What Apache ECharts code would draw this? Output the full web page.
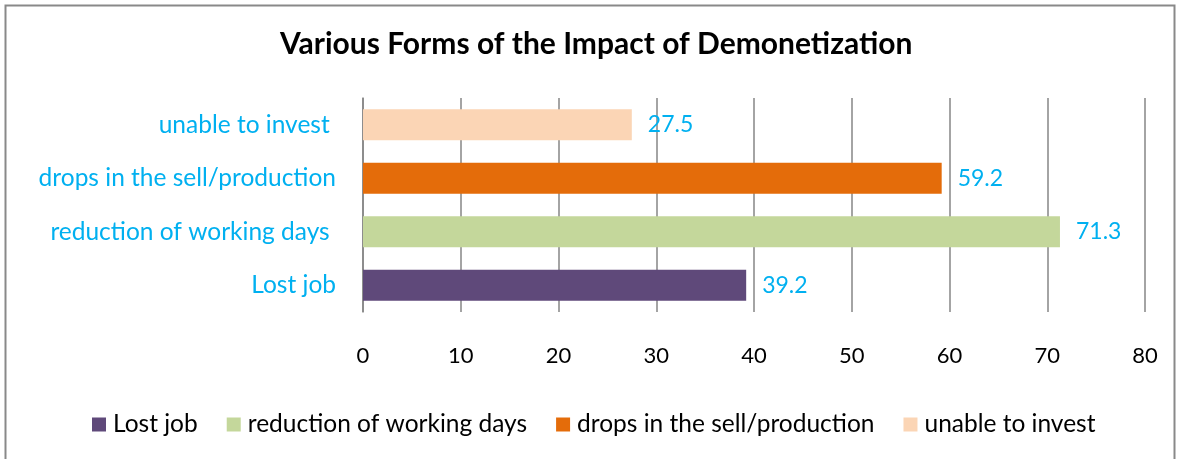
<!DOCTYPE html>
<html>
<head>
<meta charset="utf-8">
<script src="https://cdn.jsdelivr.net/npm/echarts@6/dist/echarts.min.js"></script>
<style>
html,body{margin:0;padding:0;background:#fff;}
#chart{width:1181px;height:459px;}
</style>
</head>
<body>
<div id="chart"></div>
<script>
const categories = ['Lost job', 'reduction of working days ', 'drops in the sell/production', 'unable to invest '];
const seriesNames = ['Lost job', 'reduction of working days', 'drops in the sell/production', 'unable to invest'];
const values = [39.2, 71.3, 59.2, 27.5];
const xTicks = [0, 10, 20, 30, 40, 50, 60, 70, 80];
const colors = ['#5F497A', '#C4D79B', '#E46C0A', '#FBD5B5'];

const FONT = 'Lato';
const chart = echarts.init(document.getElementById('chart'), null, {renderer: 'canvas'});

const series = seriesNames.map((name, i) => ({
  name: name,
  type: 'bar',
  stack: 'all',
  barWidth: 31,
  itemStyle: {color: colors[i]},
  label: {
    show: true,
    position: 'right',
    distance: 16,
    color: '#00B0F0',
    fontFamily: FONT,
    fontSize: 23,
    formatter: p => (p.value == null ? '' : p.value.toFixed(1))
  },
  data: categories.map((c, j) => (j === i ? values[i] : null))
}));

chart.setOption({
  animation: false,
  backgroundColor: '#fff',
  title: {
    text: 'Various Forms of the Impact of Demonetization',
    left: 280,
    top: 29,
    padding: 0,
    textStyle: {fontFamily: FONT, fontWeight: 'bold', fontSize: 30, color: '#000'}
  },
  graphic: [{
    type: 'rect',
    shape: {x: 5.5, y: 5.5, width: 1169, height: 470},
    style: {fill: 'none', stroke: '#898989', lineWidth: 2},
    silent: true
  }],
  legend: {
    left: 92,
    top: 412,
    padding: 0,
    icon: 'rect',
    itemWidth: 14,
    itemHeight: 14,
    itemGap: 29,
    textStyle: {fontFamily: FONT, fontSize: 24.5, color: '#000', padding: [0, 0, 0, 2]},
    data: seriesNames
  },
  grid: {left: 363, right: 36, top: 98, bottom: 147, containLabel: false},
  xAxis: {
    type: 'value',
    min: xTicks[0],
    max: xTicks[xTicks.length - 1],
    interval: xTicks[1] - xTicks[0],
    axisLine: {show: false},
    axisTick: {show: false},
    axisLabel: {margin: 33, color: '#000', fontFamily: FONT, fontSize: 22},
    splitLine: {show: true, lineStyle: {color: '#868686', width: 1.5}}
  },
  yAxis: {
    type: 'category',
    data: categories,
    axisLine: {show: true, lineStyle: {color: '#868686', width: 1.5}},
    axisTick: {show: false},
    axisLabel: {margin: 27, color: '#00B0F0', fontFamily: FONT, fontSize: 24.5}
  },
  series: series
});
</script>
</body>
</html>
